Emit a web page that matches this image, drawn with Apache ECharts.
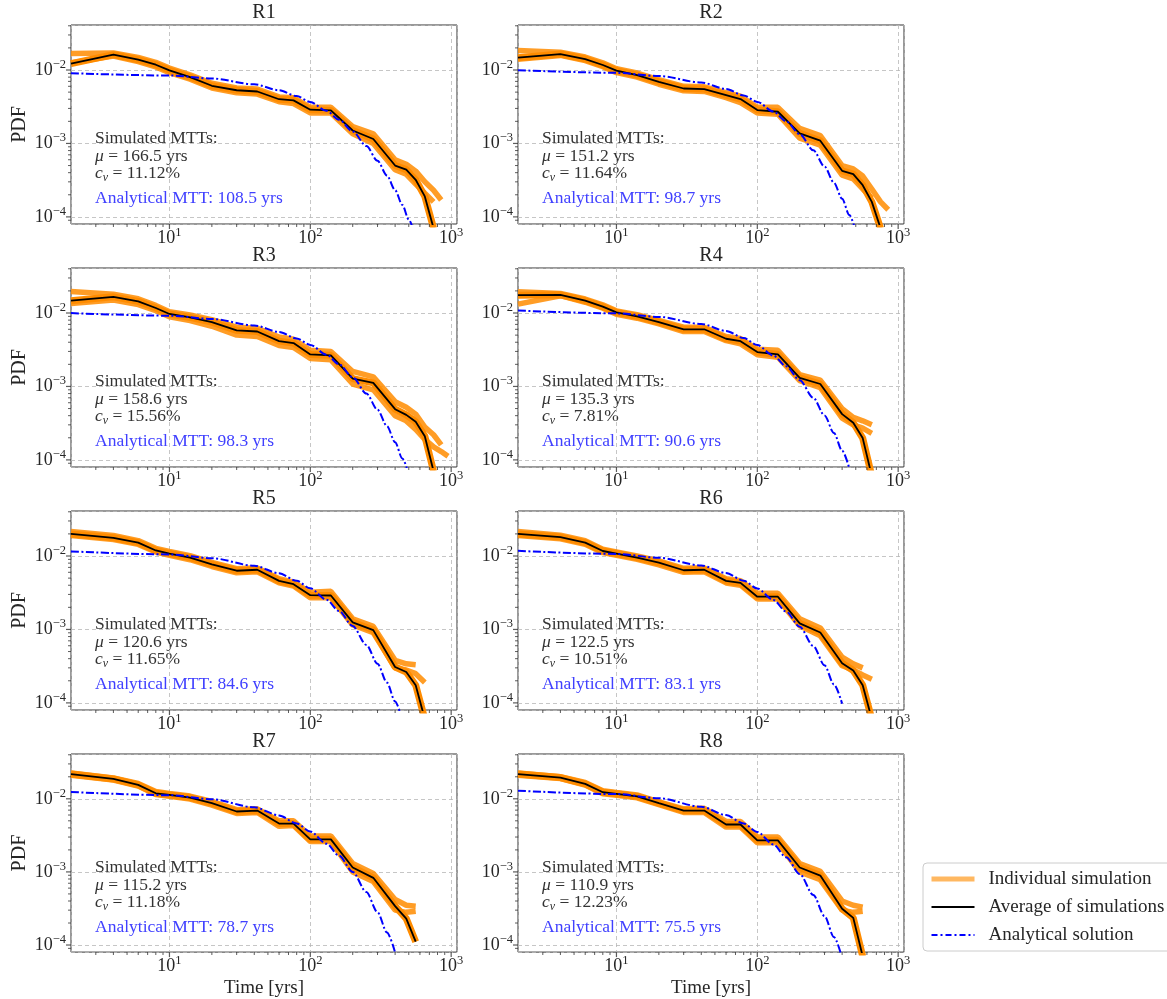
<!DOCTYPE html>
<html><head><meta charset="utf-8">
<script src="https://cdn.jsdelivr.net/npm/echarts@6/dist/echarts.min.js"></script>
<style>html,body{margin:0;padding:0;background:#fff}#c{width:1167px;height:999px}</style>
</head><body><div id="c"></div>
<script>
// ---------------- data ----------------
const panelNames = ['R1','R2','R3','R4','R5','R6','R7','R8'];
const time = [2, 4, 6, 8, 10, 14, 20, 30, 42, 60, 76, 100, 140, 200, 280, 400, 480, 560, 650, 750, 850, 950];
const timeA = [2, 10, 20, 40, 60, 80, 100, 130, 160, 200, 250, 300, 350, 400, 450, 500, 550, 600];

const R1_avg = [0.0122,0.0162,0.0138,0.0118,0.0099,0.0080,0.0061,0.0053,0.0051,0.0040,0.00386,0.00288,0.00282,0.00150,0.00115,0.00050,0.00044,0.00032,0.00019,0.00007];
const R1_hi  = [0.0168,0.0170,0.0148,0.0127,0.0106,0.0086,0.0066,0.0057,0.0055,0.0043,0.0042,0.0031,0.0031,0.0017,0.00135,0.00060,0.00052,0.00042,0.00030,0.00023,0.00017];
const R1_lo  = [0.0125,0.0155,0.0130,0.0110,0.0092,0.0075,0.0057,0.0049,0.0047,0.0037,0.0035,0.0026,0.0026,0.00135,0.00100,0.00044,0.00038,0.00028,0.00021,0.00016];

const R2_avg = [0.0147,0.0165,0.0141,0.0117,0.0098,0.0085,0.0069,0.0056,0.0055,0.00456,0.00402,0.00285,0.0027,0.00137,0.00109,0.000424,0.000382,0.00027,0.00016,0.00007];
const R2_hi  = [0.0185,0.0175,0.0150,0.0125,0.0104,0.0091,0.0074,0.0060,0.0059,0.0049,0.0044,0.0031,0.0031,0.0016,0.00128,0.00050,0.00045,0.00036,0.00024,0.00016,0.000125];
const R2_lo  = [0.0140,0.0158,0.0134,0.0111,0.0092,0.0080,0.0064,0.0052,0.0051,0.0042,0.0036,0.0026,0.0025,0.00118,0.00095,0.00037,0.00033,0.00024,0.00018];

const R3_avg = [0.0147,0.0166,0.0144,0.0117,0.0097,0.0087,0.0075,0.0058,0.0056,0.00414,0.00389,0.00273,0.00265,0.00128,0.00112,0.00049,0.00041,0.00033,0.00021,0.00007];
const R3_hi  = [0.0196,0.0180,0.0156,0.0127,0.0104,0.0094,0.0081,0.0064,0.0062,0.0047,0.0044,0.0031,0.0030,0.0016,0.00135,0.00062,0.00052,0.00042,0.00028,0.00022,0.00016];
const R3_lo  = [0.0135,0.0150,0.0130,0.0108,0.0089,0.0079,0.0066,0.0050,0.0048,0.0036,0.0034,0.0024,0.0023,0.00108,0.00090,0.00040,0.00034,0.00026,0.00019,0.00015,0.00013,0.000112];

const R4_avg = [0.0175,0.0177,0.0147,0.0122,0.0102,0.0090,0.0075,0.0060,0.0060,0.00446,0.00414,0.00294,0.00273,0.00131,0.00108,0.00042,0.00032,0.000198,0.00006];
const R4_hi  = [0.0195,0.0185,0.0155,0.0129,0.0107,0.0095,0.0079,0.0064,0.0064,0.0048,0.0045,0.0032,0.0031,0.00145,0.00122,0.00050,0.00038,0.00034,0.00030];
const R4_lo  = [0.0132,0.0172,0.0140,0.0116,0.0096,0.0085,0.0071,0.0056,0.0056,0.0042,0.0038,0.0027,0.0025,0.00120,0.00096,0.00037,0.00030,0.00027,0.00023];

const R5_avg = [0.0200,0.0177,0.0152,0.0119,0.0108,0.0095,0.0077,0.0063,0.0065,0.00458,0.00413,0.00293,0.0029,0.00125,0.00098,0.000308,0.000263,0.000174,0.00006];
const R5_hi  = [0.0215,0.0190,0.0162,0.0127,0.0115,0.0101,0.0082,0.0067,0.0069,0.0049,0.0044,0.0032,0.0033,0.00140,0.00110,0.00038,0.00034,0.00033];
const R5_lo  = [0.0190,0.0168,0.0144,0.0113,0.0102,0.0089,0.0072,0.0059,0.0061,0.0043,0.0039,0.0027,0.0027,0.00115,0.00090,0.00030,0.00028,0.00025,0.00019];

const R6_avg = [0.0200,0.0181,0.0152,0.0117,0.0108,0.0095,0.0081,0.0064,0.0065,0.00458,0.0043,0.00279,0.00279,0.00121,0.00091,0.000347,0.000276,0.000174,0.00006];
const R6_hi  = [0.0215,0.0192,0.0162,0.0124,0.0114,0.0100,0.0086,0.0068,0.0069,0.0049,0.0046,0.0031,0.0031,0.00140,0.00105,0.00042,0.00034,0.00030];
const R6_lo  = [0.0190,0.0172,0.0144,0.0111,0.0102,0.0090,0.0076,0.0060,0.0061,0.0043,0.0040,0.0026,0.0026,0.00112,0.00082,0.00032,0.00028,0.00024,0.00021];

const R7_avg = [0.0218,0.0187,0.0155,0.0119,0.0113,0.0104,0.0087,0.0067,0.0069,0.00458,0.00458,0.00279,0.00279,0.00115,0.00083,0.00034,0.00023,0.000111];
const R7_hi  = [0.0225,0.0193,0.0162,0.0126,0.0118,0.0109,0.0092,0.0071,0.0073,0.0050,0.0050,0.0031,0.0031,0.00130,0.00095,0.00042,0.00035,0.00034];
const R7_lo  = [0.0210,0.0181,0.0149,0.0114,0.0108,0.0099,0.0082,0.0063,0.0065,0.0042,0.0043,0.0026,0.0026,0.00100,0.00074,0.00030,0.00028,0.00029];

const R8_avg = [0.0218,0.0195,0.0160,0.0123,0.0117,0.0108,0.0087,0.0069,0.0069,0.00445,0.00445,0.0027,0.0027,0.00115,0.00089,0.000314,0.000235,0.00007];
const R8_hi  = [0.0225,0.0200,0.0167,0.0129,0.0122,0.0113,0.0091,0.0073,0.0074,0.0049,0.0049,0.0030,0.0030,0.00130,0.00102,0.00040,0.00035,0.00033];
const R8_lo  = [0.0210,0.0189,0.0154,0.0117,0.0112,0.0103,0.0083,0.0065,0.0065,0.0041,0.0041,0.0025,0.0025,0.00100,0.00078,0.00030,0.00028,0.00029];

const R1_ana = [0.009048,0.008405,0.007665,0.006375,0.005302,0.004409,0.003667,0.002781,0.002109,0.001459,0.000920,0.000580,0.000366,0.000231,0.0001457,0.0000919,0.0000579];
const R2_ana = [0.009929,0.009155,0.008273,0.006756,0.005517,0.004505,0.003679,0.002714,0.002003,0.001335,0.000805,0.000485,0.000292,0.0001761,0.0001061,0.0000639];
const R3_ana = [0.009968,0.009189,0.008300,0.006772,0.005525,0.004508,0.003678,0.002711,0.001998,0.001330,0.000800,0.000481,0.000289,0.0001739,0.0001046,0.0000629];
const R4_ana = [0.010797,0.009884,0.008851,0.007098,0.005692,0.004565,0.003660,0.002629,0.001888,0.001214,0.000699,0.000403,0.000232,0.0001335,0.0000769];
const R5_ana = [0.011544,0.010503,0.009332,0.007367,0.005816,0.004592,0.003625,0.002542,0.001783,0.001112,0.000616,0.000341,0.0001888,0.0001045,0.0000579];
const R6_ana = [0.011748,0.010669,0.009460,0.007436,0.005846,0.004595,0.003612,0.002518,0.001755,0.001084,0.000594,0.000325,0.0001783,0.0000977];
const R7_ana = [0.012388,0.011190,0.009855,0.007644,0.005928,0.004598,0.003566,0.002436,0.001664,0.001001,0.000530,0.000281,0.0001488,0.0000788];
const R8_ana = [0.012899,0.011602,0.010163,0.007798,0.005983,0.004591,0.003523,0.002367,0.001591,0.000937,0.000483,0.000249,0.0001284,0.0000662];

const simMean = [166.5, 151.2, 158.6, 135.3, 120.6, 122.5, 115.2, 110.9];
const simCv = ['11.12', '11.64', '15.56', '7.81', '11.65', '10.51', '11.18', '12.23'];
const analyticMTT = [108.5, 98.7, 98.3, 90.6, 84.6, 83.1, 78.7, 75.5];

const xLim = [2, 1100];
const yLim = [0.00008, 0.041];
const xMajor = [10, 100, 1000];
const xMinor = [3,4,5,6,7,8,9,20,30,40,50,60,70,80,90,200,300,400,500,600,700,800,900];
const yMajor = [0.0001, 0.001, 0.01];
const yMinor = [0.00009,0.0002,0.0003,0.0004,0.0005,0.0006,0.0007,0.0008,0.0009,0.002,0.003,0.004,0.005,0.006,0.007,0.008,0.009,0.02,0.03,0.04];

const seriesNames = ['Individual simulation', 'Average of simulations', 'Analytical solution'];

// ---------------- layout ----------------
const FONT = "'Liberation Serif', 'DejaVu Serif', serif";
const colLeft = [71, 518];
const rowTop = [25, 268, 511, 754];
const GW = 386, GH = 199;
const TXT = '#262626';

const avgs = [R1_avg,R2_avg,R3_avg,R4_avg,R5_avg,R6_avg,R7_avg,R8_avg];
const his = [R1_hi,R2_hi,R3_hi,R4_hi,R5_hi,R6_hi,R7_hi,R8_hi];
const los = [R1_lo,R2_lo,R3_lo,R4_lo,R5_lo,R6_lo,R7_lo,R8_lo];
const anas = [R1_ana,R2_ana,R3_ana,R4_ana,R5_ana,R6_ana,R7_ana,R8_ana];

function pairs(xs, ys) { return ys.map((y, i) => [xs[i], y]); }

function expLabel(v) {
  const e = Math.log10(v), r = Math.round(e);
  if (Math.abs(e - r) > 1e-6) return '';
  return '10{s|' + (r < 0 ? '\u2212' + (-r) : r) + '}';
}
const labelRich = { s: { fontSize: 12.5, lineHeight: 13, verticalAlign: 'top', fontFamily: FONT, color: TXT } };

const ORANGE = '#ff8c00';
const grids = [], xAxes = [], yAxes = [], series = [], graphics = [];
for (let p = 0; p < 8; p++) {
  const col = p % 2, row = Math.floor(p / 2);
  const gx = colLeft[col], gy = rowTop[row];
  grids.push({ left: gx, top: gy, width: GW, height: GH, show: true, borderColor: '#333', borderWidth: 1, containLabel: false });
  xAxes.push({
    type: 'log', logBase: 10, gridIndex: p, min: xLim[0], max: xLim[1],
    axisLine: { show: false }, axisTick: { show: false },
    axisLabel: { formatter: expLabel, showMinLabel: false, showMaxLabel: false, margin: 2,
      fontFamily: FONT, fontSize: 18, lineHeight: 24, color: TXT, rich: labelRich },
    splitLine: { show: true, lineStyle: { color: '#b8b8b8', type: [4, 3], width: 0.8 } },
    name: row === 3 ? 'Time [yrs]' : '', nameLocation: 'middle', nameGap: 25,
    nameTextStyle: { fontFamily: FONT, fontSize: 19, color: TXT }
  });
  yAxes.push({
    type: 'log', logBase: 10, gridIndex: p, min: yLim[0], max: yLim[1],
    axisLine: { show: false }, axisTick: { show: false },
    axisLabel: { formatter: expLabel, showMinLabel: false, showMaxLabel: false, margin: 5,
      fontFamily: FONT, fontSize: 18, lineHeight: 24, color: TXT, rich: labelRich },
    splitLine: { show: true, lineStyle: { color: '#b8b8b8', type: [4, 3], width: 0.8 } },
    name: col === 0 ? 'PDF' : '', nameLocation: 'middle', nameGap: 41, nameRotate: 90,
    nameTextStyle: { fontFamily: FONT, fontSize: 20, color: TXT }
  });
  [[his[p], 0.85, 5.5], [los[p], 0.85, 5.5], [avgs[p], 1, 7]].forEach(([arr, op, w]) => {
    series.push({ type: 'line', name: seriesNames[0], xAxisIndex: p, yAxisIndex: p, data: pairs(time, arr),
      symbol: 'none', showSymbol: false, lineStyle: { color: ORANGE, width: w, opacity: op },
      itemStyle: { color: ORANGE }, z: 2, silent: true });
  });
  series.push({ type: 'line', name: seriesNames[1], xAxisIndex: p, yAxisIndex: p, data: pairs(time, avgs[p]),
    symbol: 'none', showSymbol: false, lineStyle: { color: '#000', width: 1.8 }, itemStyle: { color: '#000' }, z: 3, silent: true });
  series.push({ type: 'line', name: seriesNames[2], xAxisIndex: p, yAxisIndex: p, data: pairs(timeA, anas[p]),
    symbol: 'none', showSymbol: false, smooth: 0.3, smoothMonotone: 'x',
    lineStyle: { color: '#0000ff', width: 2, type: [8, 2.5, 2, 2.5] }, itemStyle: { color: '#0000ff' }, z: 4, silent: true });
  // tick marks (outside the frame)
  const tickStyle = { color: '#333' };
  series.push({ type: 'scatter', xAxisIndex: p, yAxisIndex: p, silent: true, clip: false, z: 5,
    data: xMajor.map(v => [v, yLim[0]]), symbol: 'rect', symbolSize: [1.2, 5], symbolOffset: [0, 2.5], itemStyle: tickStyle });
  series.push({ type: 'scatter', xAxisIndex: p, yAxisIndex: p, silent: true, clip: false, z: 5,
    data: xMinor.map(v => [v, yLim[0]]), symbol: 'rect', symbolSize: [1, 3], symbolOffset: [0, 1.5], itemStyle: tickStyle });
  series.push({ type: 'scatter', xAxisIndex: p, yAxisIndex: p, silent: true, clip: false, z: 5,
    data: yMajor.map(v => [xLim[0], v]), symbol: 'rect', symbolSize: [5, 1.2], symbolOffset: [-2.5, 0], itemStyle: tickStyle });
  series.push({ type: 'scatter', xAxisIndex: p, yAxisIndex: p, silent: true, clip: false, z: 5,
    data: yMinor.map(v => [xLim[0], v]), symbol: 'rect', symbolSize: [3, 1], symbolOffset: [-1.5, 0], itemStyle: tickStyle });

  // title and annotations
  graphics.push({ type: 'text', x: gx + GW / 2, y: gy - 12, silent: true,
    style: { text: panelNames[p], fill: TXT, fontFamily: FONT, fontSize: 20, align: 'center', verticalAlign: 'middle' } });
  const tx = gx + 24;
  const base = { fill: '#333', fontFamily: FONT, fontSize: 17.5, align: 'left', verticalAlign: 'middle', lineHeight: 22 };
  graphics.push({ type: 'text', x: tx, y: gy + 113, silent: true, style: Object.assign({ text: 'Simulated MTTs:' }, base) });
  graphics.push({ type: 'text', x: tx, y: gy + 131, silent: true, style: Object.assign({
    text: '{i|\u03bc} = ' + simMean[p].toFixed(1) + ' yrs',
    rich: { i: { fontStyle: 'italic', fontFamily: FONT, fontSize: 17.5, fill: '#333' } } }, base) });
  graphics.push({ type: 'text', x: tx, y: gy + 148, silent: true, style: Object.assign({
    text: '{i|c}{sb|v} = ' + simCv[p] + '%',
    rich: { i: { fontStyle: 'italic', fontFamily: FONT, fontSize: 17.5, fill: '#333' },
            sb: { fontStyle: 'italic', fontFamily: FONT, fontSize: 12, lineHeight: 12, verticalAlign: 'bottom', fill: '#333' } } }, base) });
  graphics.push({ type: 'text', x: tx, y: gy + 173, silent: true, style: Object.assign({}, base, {
    text: 'Analytical MTT: ' + analyticMTT[p].toFixed(1) + ' yrs', fill: '#4040ff' }) });
}

const chart = echarts.init(document.getElementById('c'), null, { renderer: 'canvas' });
chart.setOption({
  animation: false,
  backgroundColor: '#fff',
  grid: grids, xAxis: xAxes, yAxis: yAxes, series: series, graphic: graphics,
  legend: {
    data: [
      { name: seriesNames[0], lineStyle: { width: 5, color: ORANGE, opacity: 0.62 } },
      { name: seriesNames[1], lineStyle: { width: 1.8, color: '#000' } },
      { name: seriesNames[2], lineStyle: { width: 1.8, color: '#0000ff', type: [6, 3, 2, 3] } }
    ],
    left: 923, top: 863, orient: 'vertical', selectedMode: false,
    itemWidth: 43, itemHeight: 14, itemGap: 8, padding: [6, 20, 6, 6],
    itemStyle: { opacity: 0, borderWidth: 0 },
    backgroundColor: '#fff', borderColor: '#cccccc', borderWidth: 1, borderRadius: 4,
    textStyle: { fontFamily: FONT, fontSize: 19, color: TXT, lineHeight: 20, padding: [0, 0, 0, 9] }
  }
});
</script></body></html>
